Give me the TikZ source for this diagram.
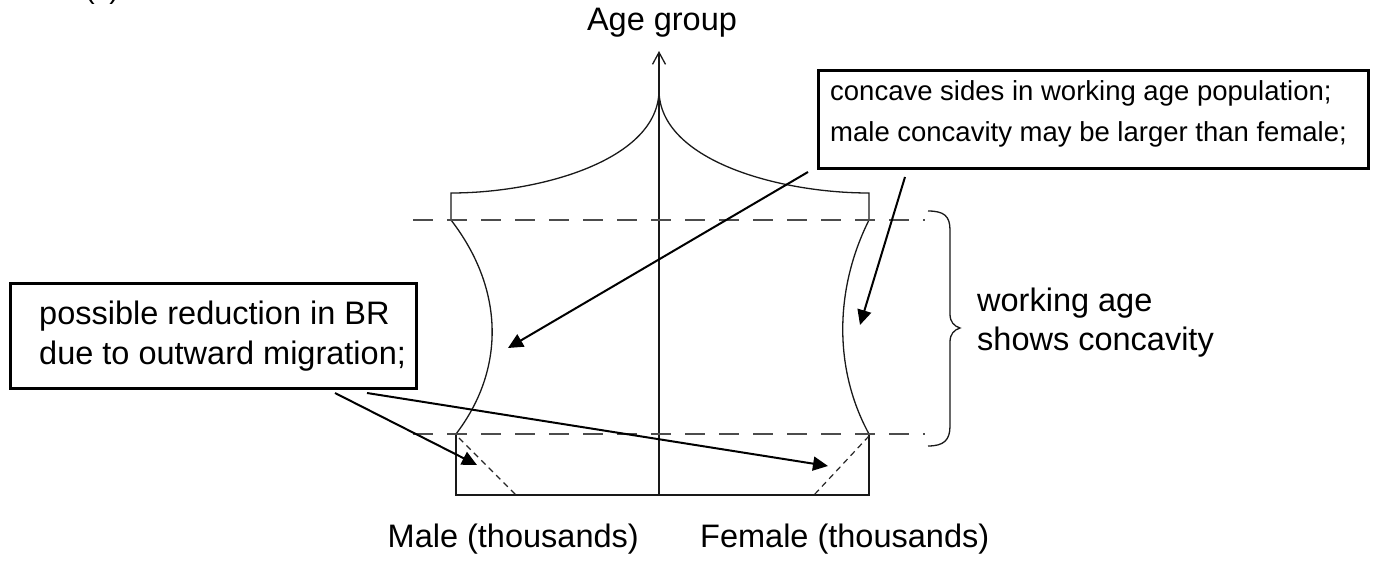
\documentclass[tikz,border=0pt]{standalone}
\usepackage{fontspec}
\setmainfont{Liberation Sans}
\usetikzlibrary{arrows.meta}
\begin{document}
\begin{tikzpicture}[x=1pt,y=-1pt,
  thinl/.style={line width=1.3pt, draw=black!90},
  dashl/.style={line width=1.3pt, draw=black!70, dash pattern=on 20pt off 14pt},
  dotl/.style={line width=1.2pt, draw=black!85, dash pattern=on 6pt off 4.5pt},
  boxl/.style={draw, line width=2.6pt, inner sep=0pt, anchor=north west},
  arrowl/.style={line width=2pt, -{Triangle[length=15pt,width=14pt]}},
  lbl/.style={font=\fontsize{32.5}{39}\selectfont, inner sep=0pt, anchor=base west},
  lbls/.style={font=\fontsize{27.5}{33}\selectfont, inner sep=0pt, anchor=base west}]
\useasboundingbox (0,0) rectangle (1377,561);
% partial label at the top edge
\node[font=\fontsize{29}{34}\selectfont, inner sep=0pt, anchor=base] (tag) at (102,-1) {(c)};
% axis
\coordinate (axb) at (659,495);
\coordinate (axt) at (659,51);
\draw[thinl, -{Straight Barb[length=12pt,width=13pt]}] (axb) -- (axt);
\node[lbl, anchor=base] (age) at (662,31) {Age group};
% top curves
\draw[thinl] (451,220) -- (451,193) .. controls (540,193) and (659,160) .. (659,90)
  .. controls (659,160) and (778,193) .. (869,193) -- (869,220);
% concave sides
\draw[thinl] (451,220) .. controls (505,290) and (505,370) .. (456,434);
\draw[thinl] (869,220) .. controls (834,290) and (834,370) .. (869,434);
% bottom block
\draw[thinl] (456,434) -- (456,495) -- (869,495) -- (869,434);
\draw[dotl] (459,438) -- (516,495);
\draw[dotl] (869,436) -- (814,495);
% dashed guides
\draw[dashl] (413,220) -- (925,220);
\draw[dashl] (413,434) -- (925,434);
% brace
\draw[thinl] (928,211) .. controls (944,211) and (950,216) .. (950,230) -- (950,314)
  .. controls (950,322) and (954,326) .. (960,328)
  .. controls (954,330) and (950,334) .. (950,342) -- (950,426)
  .. controls (950,440) and (944,446) .. (928,446);
\node[lbl] (wa1) at (977,312) {working age};
\node[lbl] (wa2) at (977,351) {shows concavity};
% box 1
\node[boxl, minimum width=550pt, minimum height=98pt] (b1) at (817,69) {};
\node[lbls] (b1a) at (830,101) {concave sides in working age population;};
\node[lbls] (b1b) at (830,142) {male concavity may be larger than female;};
% box 2
\node[boxl, minimum width=406pt, minimum height=105pt] (b2) at (9,282) {};
\node[lbl] (b2a) at (39,325) {possible reduction in BR};
\node[lbl] (b2b) at (39,365) {due to outward migration;};
% axis labels
\node[lbl, anchor=base east] (male) at (639,547) {Male (thousands)};
\node[lbl] (female) at (700,547) {Female (thousands)};
% arrows
\coordinate (s1) at (808,172); \coordinate (t1) at (508,348);
\coordinate (s2) at (905,177); \coordinate (t2) at (860,325);
\coordinate (s3) at (335,393); \coordinate (t3) at (477,465);
\coordinate (s4) at (367,393); \coordinate (t4) at (828,466);
\draw[arrowl] (s1) -- (t1);
\draw[arrowl] (s2) -- (t2);
\draw[arrowl] (s3) -- (t3);
\draw[arrowl] (s4) -- (t4);
\end{tikzpicture}
\end{document}
